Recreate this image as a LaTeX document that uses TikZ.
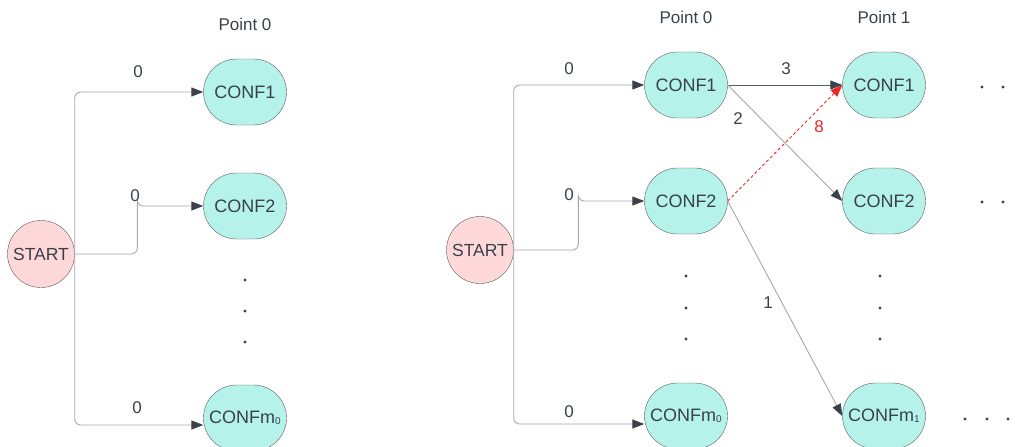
\documentclass[tikz,border=0pt]{standalone}
\usepackage{fontspec}
\setmainfont{Liberation Sans}
\usetikzlibrary{arrows.meta,shapes.misc}
\definecolor{confcol}{RGB}{181,242,234}
\definecolor{startcol}{RGB}{255,216,217}
\definecolor{bordcol}{HTML}{5E5E5E}
\definecolor{inkcol}{HTML}{3A414A}
\definecolor{linecol}{HTML}{A8A8A8}
\definecolor{hotcol}{RGB}{235,40,40}
\newcommand{\idx}[1]{\raisebox{-1pt}{\fontsize{10}{10}\selectfont #1}}

\begin{document}
\begin{tikzpicture}[x=1pt,y=-1pt,
conf/.style={rounded rectangle, draw=bordcol, fill=confcol, minimum width=83pt, minimum height=66pt, inner sep=0pt, text=inkcol, font=\fontsize{18}{20}\selectfont},
startnode/.style={circle, draw=bordcol, fill=startcol, minimum size=67pt, inner sep=0pt, text=inkcol, font=\fontsize{17.5}{20}\selectfont},
lbl/.style={text=inkcol, font=\fontsize{17}{20}\selectfont},
conn/.style={draw=linecol, line width=0.9pt, rounded corners=6pt, -{Triangle[length=12pt,width=9pt,color=inkcol]}},
darkconn/.style={conn, draw=inkcol!85},
hotconn/.style={draw=hotcol, line width=0.9pt, dash pattern=on 3pt off 2.5pt, -{Triangle[length=12pt,width=9pt,color=hotcol]}},
dot/.style={fill=inkcol}
]
\useasboundingbox (0,0) rectangle (1015,447);

\node[startnode] (startA) at (41,254) {START};
\node[conf] (a1) at (245,92) {CONF1};
\node[conf] (a2) at (245,206) {CONF2};
\node[conf] (am) at (245,418) {CONFm\idx{0}};
\node[lbl] (pa) at (245,24) {Point 0};

\draw[conn] (startA.east) |- (a1.west);
\draw[conn] (startA.east) -| ([xshift=-66pt]a2.west) |- (a2.west);
\draw[conn] (startA.east) |- ([yshift=-7pt]am.west);
\node[lbl] (la1) at (138,72) {0};
\node[lbl] (la2) at (135,196) {0};
\node[lbl] (lam) at (137,408) {0};

\fill[dot] (245,280) circle (1.6);
\fill[dot] (245,311) circle (1.6);
\fill[dot] (245,342) circle (1.6);

\node[startnode] (startB) at (480,250) {START};
\node[conf] (b1) at (686,85) {CONF1};
\node[conf] (b2) at (686,201) {CONF2};
\node[conf] (bm) at (686,416) {CONFm\idx{0}};
\node[conf] (c1) at (884,85) {CONF1};
\node[conf] (c2) at (884,201) {CONF2};
\node[conf] (cm) at (884,416) {CONFm\idx{1}};
\node[lbl] (pb) at (686,17) {Point 0};
\node[lbl] (pc) at (884,17) {Point 1};

\draw[conn] (startB.east) |- (b1.west);
\draw[conn] (startB.east) -| ([xshift=-66pt]b2.west) |- (b2.west);
\draw[conn] (startB.east) |- ([yshift=-8pt]bm.west);
\node[lbl] (lb1) at (569,69) {0};
\node[lbl] (lb2) at (569,195) {0};
\node[lbl] (lbm) at (569,412) {0};

\draw[darkconn] (b1.east) -- (c1.west);
\draw[conn] (b1.east) -- (c2.west);
\draw[hotconn] (b2.east) -- (c1.west);
\draw[conn] (b2.east) -- (cm.west);
\node[lbl] (w3) at (786,69) {3};
\node[lbl] (w2) at (738,119) {2};
\node[lbl, text=hotcol] (w8) at (819,127) {8};
\node[lbl] (w1) at (768,303) {1};

\fill[dot] (686,276) circle (1.6);
\fill[dot] (686,308) circle (1.6);
\fill[dot] (686,339) circle (1.6);
\fill[dot] (880,276) circle (1.6);
\fill[dot] (880,308) circle (1.6);
\fill[dot] (880,339) circle (1.6);

\fill[dot] (982,87) circle (1.6);
\fill[dot] (1003,87) circle (1.6);
\fill[dot] (982,202) circle (1.6);
\fill[dot] (1003,202) circle (1.6);
\fill[dot] (965,419) circle (1.6);
\fill[dot] (987,419) circle (1.6);
\fill[dot] (1008,419) circle (1.6);
\end{tikzpicture}
\end{document}
